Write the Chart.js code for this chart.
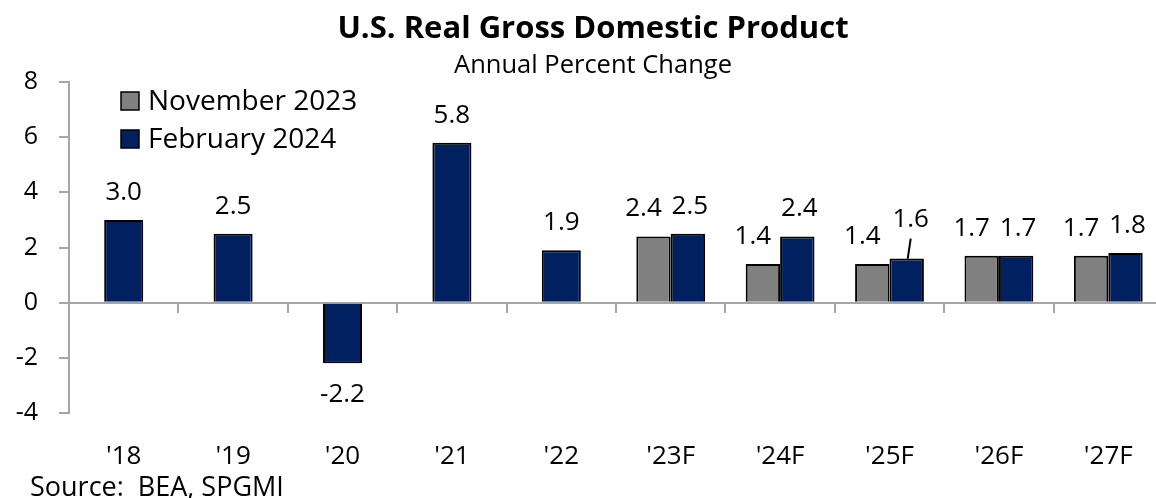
<!DOCTYPE html>
<html>
<head>
<meta charset="utf-8">
<script src="https://cdn.jsdelivr.net/npm/chart.js@4"></script>
<style>
	html, body { margin: 0; padding: 0; overflow: hidden; background: #fff; }
	#wrap { width: 1163px; height: 498px; }
</style>
</head>
<body>
<div id="wrap"><canvas id="gdp" width="1163" height="498"></canvas></div>
<script>
const years = ["'18", "'19", "'20", "'21", "'22", "'23F", "'24F", "'25F", "'26F", "'27F"]
const actual = [3.0, 2.5, -2.2, 5.8, 1.9, null, null, null, null, null]
const nov2023 = [null, null, null, null, null, 2.4, 1.4, 1.4, 1.7, 1.7]
const feb2024 = [null, null, null, null, null, 2.5, 2.4, 1.6, 1.7, 1.8]
const yTicks = [-4, -2, 0, 2, 4, 6, 8]

// label that sits higher with a leader line, like in the original
const callouts = [{ series: "February 2024", year: "'25F", lift: 12 }]

const NAVY = "#002060"
const GREY = "#808080"
const AXIS = "#A6A6A6"
const FONT = "'Open Sans', 'Noto Sans', sans-serif"

const texts = {
	id: "texts",
	afterDraw(chart) {
		const c = chart.ctx
		c.save()
		c.fillStyle = "#000"
		c.textAlign = "center"
		c.textBaseline = "alphabetic"
		c.font = "bold 31px " + FONT
		c.fillText("U.S. Real Gross Domestic Product", 593, 38)
		c.font = "25.5px " + FONT
		c.fillText("Annual Percent Change", 593, 73)
		c.textAlign = "left"
		c.font = "27px " + FONT
		c.fillText("Source:  BEA, SPGMI", 30, 496)
		c.restore()
	},
}

const boxLegend = {
	id: "boxLegend",
	afterDraw(chart) {
		const { ctx, chartArea } = chart
		const x = chartArea.left + 52
		let y = chartArea.top + 10
		ctx.save()
		ctx.font = "28px " + FONT
		ctx.textBaseline = "alphabetic"
		chart.data.datasets.forEach((ds) => {
			if (!ds.inLegend) return
			ctx.fillStyle = ds.backgroundColor
			ctx.fillRect(x, y, 18, 18)
			ctx.strokeStyle = "#000"
			ctx.lineWidth = 1.5
			ctx.strokeRect(x, y, 18, 18)
			ctx.fillStyle = "#000"
			ctx.fillText(ds.label, x + 27, y + 18)
			y += 38
		})
		ctx.restore()
	},
}

const valueLabels = {
	id: "valueLabels",
	afterDatasetsDraw(chart) {
		const ctx = chart.ctx
		ctx.save()
		ctx.font = "26px " + FONT
		ctx.fillStyle = "#000"
		ctx.strokeStyle = "#000"
		ctx.lineWidth = 2
		ctx.textAlign = "center"
		ctx.textBaseline = "alphabetic"
		chart.data.datasets.forEach((ds, i) => {
			const meta = chart.getDatasetMeta(i)
			meta.data.forEach((bar, j) => {
				const v = ds.data[j]
				if (v === null || v === undefined) return
				const x = bar.x + (ds.labelShift || 0)
				if (v < 0) {
					ctx.fillText(v.toFixed(1), x, bar.y + 39)
					return
				}
				const co = callouts.find((c) => c.series === ds.label && c.year === years[j])
				if (co) {
					ctx.fillText(v.toFixed(1), bar.x + 4, bar.y - 20 - co.lift)
					ctx.beginPath()
					ctx.moveTo(bar.x + 4, bar.y - 20)
					ctx.lineTo(bar.x + 1, bar.y)
					ctx.stroke()
				} else {
					ctx.fillText(v.toFixed(1), x, bar.y - 20)
				}
			})
		})
		ctx.restore()
	},
}

new Chart(document.getElementById("gdp"), {
	type: "bar",
	data: {
		labels: years,
		datasets: [
			{ label: "Actual", data: actual, backgroundColor: NAVY, grouped: false, categoryPercentage: 1, barPercentage: 0.357 },
			{ label: "November 2023", data: nov2023, backgroundColor: GREY, inLegend: true, labelShift: -10 },
			{ label: "February 2024", data: feb2024, backgroundColor: NAVY, inLegend: true, labelShift: 2 },
		],
	},
	options: {
		responsive: false,
		animation: false,
		layout: { padding: { top: 82, bottom: 27, left: 0, right: 0 } },
		datasets: {
			bar: { borderColor: "#000", borderWidth: 2, categoryPercentage: 0.629, barPercentage: 1 },
		},
		plugins: {
			legend: { display: false },
			tooltip: { enabled: false },
		},
		scales: {
			// axis line and tick marks sit on the zero line
			x: {
				position: { y: 0 },
				offset: true,
				afterFit: (s) => { s.height = 0 },
				grid: { offset: true, drawOnChartArea: false, tickLength: 9, color: AXIS, lineWidth: 2 },
				border: { color: AXIS, width: 2 },
				ticks: { display: false },
			},
			// year labels along the bottom
			xLabels: {
				type: "category",
				position: "bottom",
				offset: true,
				afterFit: (s) => { s.height = 58 },
				grid: { display: false },
				border: { display: false },
				ticks: { padding: 20, color: "#000", font: { family: FONT, size: 26 } },
			},
			y: {
				min: -4,
				max: 8,
				afterFit: (s) => { s.width = 69 },
				afterBuildTicks: (s) => { s.ticks = yTicks.map((v) => ({ value: v })) },
				grid: { drawOnChartArea: false, tickLength: 10, color: AXIS, lineWidth: 2 },
				border: { color: AXIS, width: 2 },
				ticks: { padding: 21, color: "#000", font: { family: FONT, size: 25 } },
			},
		},
	},
	plugins: [valueLabels, boxLegend, texts],
})
</script>
</body>
</html>
